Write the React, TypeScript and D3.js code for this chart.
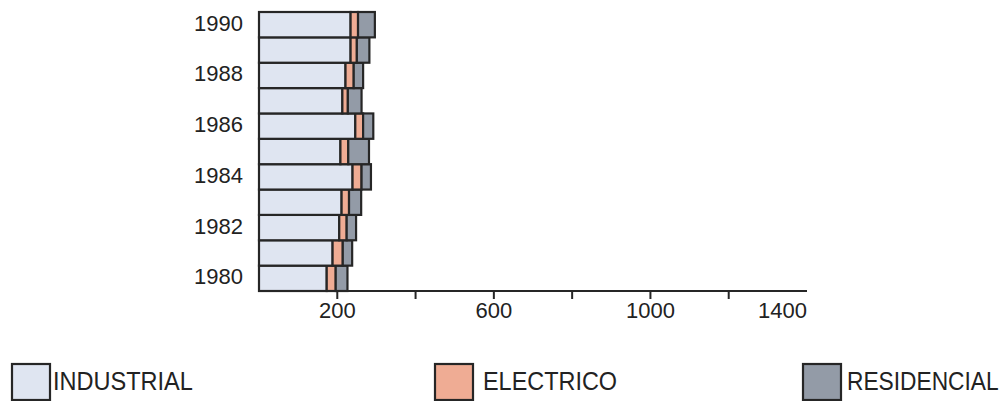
import React from "react";
import * as d3 from "d3";

const years = [1980, 1981, 1982, 1983, 1984, 1985, 1986, 1987, 1988, 1989, 1990];
const industrial = [173, 188, 205, 211, 239, 208, 246, 213, 221, 234, 234];
const electrico = [23, 26, 19, 19, 23, 20, 20, 14, 21, 16, 19];
const residencial = [30, 24, 24, 31, 24, 53, 26, 35, 24, 32, 43];
const yearLabels = [1980, 1982, 1984, 1986, 1988, 1990];
const labeledTicks = [200, 600, 1000, 1400];
const minorTicks = [400, 800, 1200];
const seriesNames = ["INDUSTRIAL", "ELECTRICO", "RESIDENCIAL"];
const colors = ["#dfe5f1", "#efac94", "#939ba7"];

export default function App() {
  const W = 1007, H = 401;
  const x = d3.scaleLinear().domain([0, 1400]).range([259, 807]);
  const y = d3.scaleBand<number>().domain([...years].reverse()).range([12, 291]).padding(0);
  const font = "'Liberation Sans', Arial, Helvetica, sans-serif";
  const stroke = "#262626";

  const rows = years.map((yr, i) => {
    const vals = [industrial[i], electrico[i], residencial[i]];
    let acc = 0;
    const segs = vals.map((v, k) => {
      const s = { x0: acc, x1: acc + v, k };
      acc += v;
      return s;
    });
    return { yr, segs };
  });

  const legendX = [12, 435, 803];
  const legendTextX = [53, 483, 847];
  const legendScaleX = [0.942, 0.937, 0.91];

  return (
    <svg width={W} height={H} style={{ position: "absolute", left: 0, top: 0, background: "#fff" }}>
      {rows.map((r) =>
        r.segs.map((s) => (
          <rect
            key={`${r.yr}-${s.k}`}
            x={x(s.x0)}
            y={y(r.yr)!}
            width={x(s.x1) - x(s.x0)}
            height={y.bandwidth()}
            fill={colors[s.k]}
            stroke={stroke}
            strokeWidth={2.2}
          />
        ))
      )}
      {yearLabels.map((yr) => (
        <text
          key={yr}
          x={243}
          y={y(yr)! + y.bandwidth() / 2 + 6}
          textAnchor="end"
          fontFamily={font}
          fontSize={22}
          fill="#222"
        >
          {yr}
        </text>
      ))}
      <line x1={x(0)} x2={x(1400)} y1={291} y2={291} stroke={stroke} strokeWidth={2.2} />
      {[...labeledTicks.filter((t) => t < 1400), ...minorTicks].map((t) => (
        <line key={`t${t}`} x1={x(t)} x2={x(t)} y1={291} y2={299} stroke={stroke} strokeWidth={2} />
      ))}
      {labeledTicks.map((t) => (
        <text
          key={`l${t}`}
          x={x(t)}
          y={318}
          textAnchor={t === 1400 ? "end" : "middle"}
          fontFamily={font}
          fontSize={22}
          fill="#222"
        >
          {t}
        </text>
      ))}
      {seriesNames.map((n, i) => (
        <g key={n}>
          <rect x={legendX[i]} y={364} width={38} height={36} fill={colors[i]} stroke={stroke} strokeWidth={2.2} />
          <text
            transform={`translate(${legendTextX[i]},390) scale(${legendScaleX[i]},1)`}
            fontFamily={font}
            fontSize={25}
            fill="#222"
          >
            {n}
          </text>
        </g>
      ))}
    </svg>
  );
}
